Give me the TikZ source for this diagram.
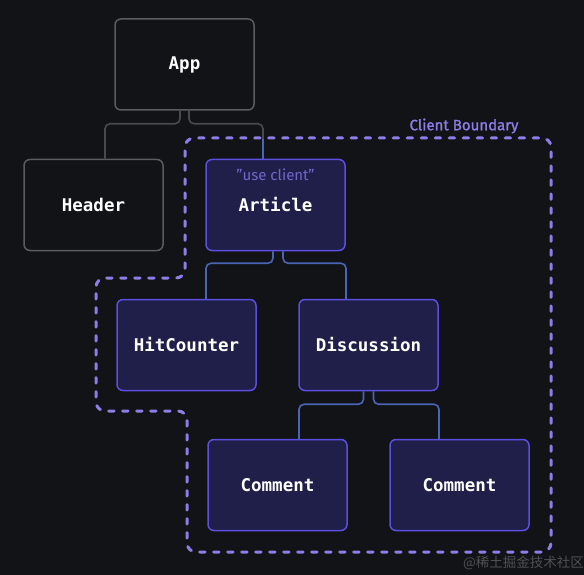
\documentclass[tikz,border=0pt]{standalone}
\usepackage{fontspec}
\setmonofont{DejaVu Sans Mono}
\setsansfont{Fira Sans}
\newfontfamily\cbfont[FakeBold=1.2]{Fira Sans}
\newfontfamily\cjkfont{Noto Sans CJK SC}
\usetikzlibrary{calc}
\definecolor{bgc}{RGB}{17,19,22}
\definecolor{grayb}{RGB}{90,93,96}
\definecolor{grayc}{RGB}{72,75,78}
\definecolor{purpb}{RGB}{92,78,222}
\definecolor{navy}{RGB}{31,31,74}
\definecolor{bluec}{RGB}{74,100,182}
\definecolor{dashc}{RGB}{140,126,230}
\definecolor{usec}{RGB}{112,102,204}
\definecolor{wmc}{RGB}{78,80,84}
\begin{document}
\begin{tikzpicture}[x=1pt,y=-1pt,
  box/.style={draw, rounded corners=6pt, line width=1.5pt, minimum width=139pt,
    minimum height=91pt, inner sep=0pt, text=white,
    font=\ttfamily\bfseries\fontsize{17.5}{20}\selectfont},
  srv/.style={box, draw=grayb, fill=bgc},
  cli/.style={box, draw=purpb, fill=navy},
  conn/.style={line width=1.6pt, rounded corners=5pt},
  gconn/.style={conn, draw=grayc},
  bconn/.style={conn, draw=bluec},
  boundary/.style={draw=dashc, line width=3pt, dash pattern=on 5.5pt off 8.5pt,
    line cap=round, rounded corners=9pt}]
\fill[bgc] (0,0) rectangle (584,575);

\node[srv] (app) at (184.5,64.5) {App};
\node[srv] (header) at (93.5,205) {Header};
\node[cli] (article) at (275.5,205) {Article};
\node[cli] (hit) at (186.5,345) {HitCounter};
\node[cli] (disc) at (368.5,345) {Discussion};
\node[cli] (com1) at (277.5,485) {Comment};
\node[cli] (com2) at (459.5,485) {Comment};

% App forks
\draw[gconn] ([xshift=-4.5pt]app.south) |- ($([xshift=11.5pt]header.north |- app.south)+(0,13)$) -- ([xshift=11.5pt]header.north);
\draw[gconn] ([xshift=4.5pt]app.south) |- ($([xshift=-12.5pt]article.north |- app.south)+(0,13)$) -- ([xshift=-12.5pt]article.north);
\draw[bconn, rounded corners=0pt] ([xshift=-12.5pt]article.north) -- ++(0,-20);
% Article forks
\draw[bconn] ([xshift=-2.5pt]article.south) |- ($([xshift=19.5pt]hit.north |- article.south)+(0,12)$) -- ([xshift=19.5pt]hit.north);
\draw[bconn] ([xshift=7.5pt]article.south) |- ($([xshift=-22.5pt]disc.north |- article.south)+(0,12)$) -- ([xshift=-22.5pt]disc.north);
% Discussion forks
\draw[bconn] ([xshift=-5pt]disc.south) |- ($([xshift=21.5pt]com1.north |- disc.south)+(0,13)$) -- ([xshift=21.5pt]com1.north);
\draw[bconn] ([xshift=5pt]disc.south) |- ($([xshift=-20.5pt]com2.north |- disc.south)+(0,13)$) -- ([xshift=-20.5pt]com2.north);

% boundary
\draw[boundary] (300,138) -- (551,138) -- (551,552) -- (187,552) -- (187,411)
  -- (96,411) -- (96,278) -- (185,278) -- (185,138) -- cycle;
\node[text=dashc, font=\cbfont\fontsize{15}{18}\selectfont, inner sep=0pt] (cb) at (464,126) {Client Boundary};
\node[text=usec, font=\sffamily\fontsize{15}{18}\selectfont, inner sep=0pt] (uc) at (275.5,175) {"use client"};

\node[text=wmc, font=\cjkfont\fontsize{13.5}{16}\selectfont, inner sep=0pt] (wm) at (523.5,563) {@稀土掘金技术社区};
\end{tikzpicture}
\end{document}
